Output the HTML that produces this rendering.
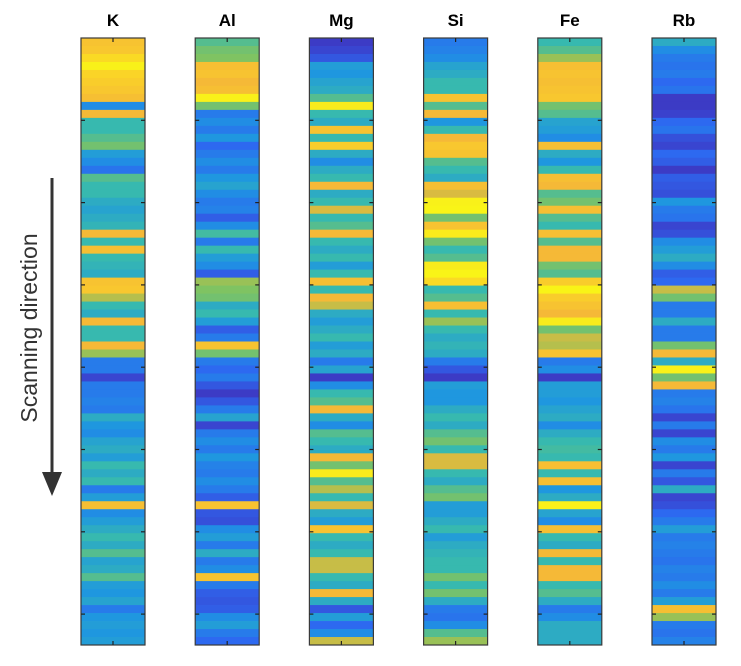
<!DOCTYPE html>
<html><head><meta charset="utf-8"><style>
html,body{margin:0;padding:0;background:#fff;}
body{width:741px;height:661px;overflow:hidden;font-family:"Liberation Sans",sans-serif;}
</style></head><body>
<svg id="chart" width="741" height="661" xmlns="http://www.w3.org/2000/svg">
<g id="label">
<text x="0" y="0" transform="translate(37,328) rotate(-90)" text-anchor="middle" font-family="Liberation Sans, sans-serif" font-size="23" fill="#333">Scanning direction</text>
<line x1="52" y1="178" x2="52" y2="475" stroke="#333" stroke-width="3"/>
<polygon points="42,472 62,472 52,496" fill="#333"/>
</g>
<g id="cols"></g>
</svg>
<script>
const elements = ["K","Al","Mg","Si","Fe","Rb"];
const valuesK = [.8,.82,.9,.97,.88,.85,.82,.78,.35,.75,.5,.5,.55,.6,.4,.35,.28,.55,.5,.5,.45,.42,.45,.48,.75,.5,.78,.5,.48,.45,.8,.82,.68,.5,.45,.75,.5,.5,.75,.65,.3,.3,.15,.3,.3,.32,.3,.45,.38,.35,.42,.45,.4,.5,.45,.5,.3,.4,.78,.35,.4,.45,.5,.45,.55,.42,.45,.55,.4,.38,.42,.3,.38,.4,.38,.4];
const valuesAl = [.55,.6,.62,.78,.8,.75,.78,.97,.6,.3,.35,.3,.38,.25,.3,.35,.3,.38,.42,.35,.3,.32,.22,.35,.52,.3,.5,.4,.35,.22,.65,.62,.6,.45,.5,.4,.22,.3,.8,.6,.3,.25,.3,.2,.12,.2,.3,.42,.15,.3,.35,.3,.38,.32,.3,.35,.3,.22,.8,.2,.18,.35,.4,.3,.45,.3,.35,.8,.3,.22,.2,.22,.35,.4,.3,.25];
const valuesMg = [.12,.15,.2,.4,.38,.42,.45,.55,.95,.5,.45,.8,.5,.85,.45,.35,.45,.5,.75,.45,.5,.72,.5,.55,.75,.5,.45,.5,.4,.5,.78,.5,.75,.7,.45,.4,.45,.5,.4,.45,.3,.42,.12,.35,.5,.55,.75,.45,.35,.55,.5,.45,.75,.6,.95,.55,.68,.5,.72,.45,.4,.8,.5,.45,.5,.7,.7,.5,.45,.75,.45,.2,.4,.25,.35,.7];
const valuesSi = [.3,.32,.35,.42,.45,.5,.5,.8,.55,.75,.38,.5,.75,.82,.8,.55,.5,.45,.78,.72,.97,.98,.6,.8,.95,.6,.5,.55,.95,.98,.9,.5,.55,.78,.5,.65,.5,.45,.48,.45,.3,.2,.12,.4,.38,.38,.45,.5,.45,.55,.6,.5,.72,.72,.5,.45,.55,.6,.4,.4,.45,.5,.4,.45,.48,.5,.5,.6,.5,.6,.45,.3,.28,.35,.55,.65];
const valuesFe = [.5,.55,.65,.78,.8,.78,.8,.82,.6,.55,.42,.4,.35,.78,.45,.38,.5,.78,.75,.55,.6,.78,.55,.5,.78,.55,.75,.75,.6,.55,.85,.98,.85,.8,.75,.95,.6,.7,.68,.8,.3,.35,.12,.4,.4,.38,.42,.45,.35,.45,.5,.52,.5,.78,.5,.78,.38,.45,.97,.42,.35,.78,.5,.45,.75,.5,.75,.75,.5,.55,.45,.3,.35,.45,.45,.45];
const valuesRb = [.45,.35,.3,.28,.3,.25,.28,.12,.12,.14,.25,.28,.18,.15,.25,.22,.12,.22,.2,.18,.38,.3,.28,.15,.18,.35,.4,.45,.35,.22,.25,.7,.6,.3,.3,.45,.3,.3,.6,.75,.45,.97,.6,.75,.3,.32,.28,.15,.3,.15,.35,.3,.38,.15,.3,.2,.45,.15,.18,.25,.3,.4,.3,.32,.3,.28,.32,.3,.35,.3,.4,.78,.65,.3,.28,.32];
const series = [valuesK, valuesAl, valuesMg, valuesSi, valuesFe, valuesRb];

const colLeft0 = 81, colStep = 114.2, colW = 64, yTop = 38, yBottom = 645;
const parula = [[0,[53,42,135]],[0.125,[60,60,200]],[0.25,[45,105,240]],[0.375,[30,150,225]],[0.5,[55,185,175]],[0.625,[130,195,95]],[0.75,[245,185,55]],[0.875,[250,210,40]],[1,[249,251,20]]];
function color(v){
  v=Math.max(0,Math.min(1,v));
  for(let i=1;i<parula.length;i++){
    if(v<=parula[i][0]){
      const a=parula[i-1][0], ca=parula[i-1][1], b=parula[i][0], cb=parula[i][1];
      const t=(v-a)/(b-a);
      return 'rgb('+ca.map((c,k)=>Math.round(c+(cb[k]-c)*t)).join(',')+')';
    }
  }
  return 'rgb(249,251,20)';
}
function xScale(i){return colLeft0+i*colStep;}
function yScale(r,n){return yTop+(yBottom-yTop)*r/n;}
const NS="http://www.w3.org/2000/svg";
const g=document.getElementById('cols');
elements.forEach((name,ci)=>{
  const vals=series[ci];const n=vals.length;const x=xScale(ci);
  const col=document.createElementNS(NS,'g');
  
  
  g.appendChild(col);
  vals.forEach((v,r)=>{
    const y0=yScale(r,n), y1=yScale(r+1,n);
    const rc=document.createElementNS(NS,'rect');
    rc.setAttribute('x',x);rc.setAttribute('y',y0);rc.setAttribute('width',colW);rc.setAttribute('height',(y1-y0)+0.4);
    rc.setAttribute('fill',color(v));
    
    
    col.appendChild(rc);
  });
  const frame=document.createElementNS(NS,'rect');
  frame.setAttribute('x',x);frame.setAttribute('y',yTop);frame.setAttribute('width',colW);frame.setAttribute('height',yBottom-yTop);
  frame.setAttribute('fill','none');frame.setAttribute('stroke','#3a3a3a');frame.setAttribute('stroke-width','1.2');
  
  
  col.appendChild(frame);
  for(let k=1;k<=7;k++){
    const ty=yTop+k*82.3;
    [[x,x+4],[x+colW-4,x+colW]].forEach(([a,b])=>{
      const l=document.createElementNS(NS,'line');
      l.setAttribute('x1',a);l.setAttribute('x2',b);l.setAttribute('y1',ty);l.setAttribute('y2',ty);
      l.setAttribute('stroke','#222');l.setAttribute('stroke-width','1.2');
      
      
      col.appendChild(l);
    });
  }
  [[yTop,yTop+4],[yBottom-4,yBottom]].forEach(([a,b])=>{
    const l=document.createElementNS(NS,'line');
    l.setAttribute('x1',x+colW/2);l.setAttribute('x2',x+colW/2);l.setAttribute('y1',a);l.setAttribute('y2',b);
    l.setAttribute('stroke','#222');l.setAttribute('stroke-width','1.2');
    
    
    col.appendChild(l);
  });
  const t=document.createElementNS(NS,'text');
  t.setAttribute('x',x+colW/2);t.setAttribute('y',26);t.setAttribute('text-anchor','middle');
  t.setAttribute('font-family','Liberation Sans, sans-serif');t.setAttribute('font-size','17');t.setAttribute('font-weight','bold');
  t.textContent=name;
  
  
  col.appendChild(t);
});
</script>
</body></html>
